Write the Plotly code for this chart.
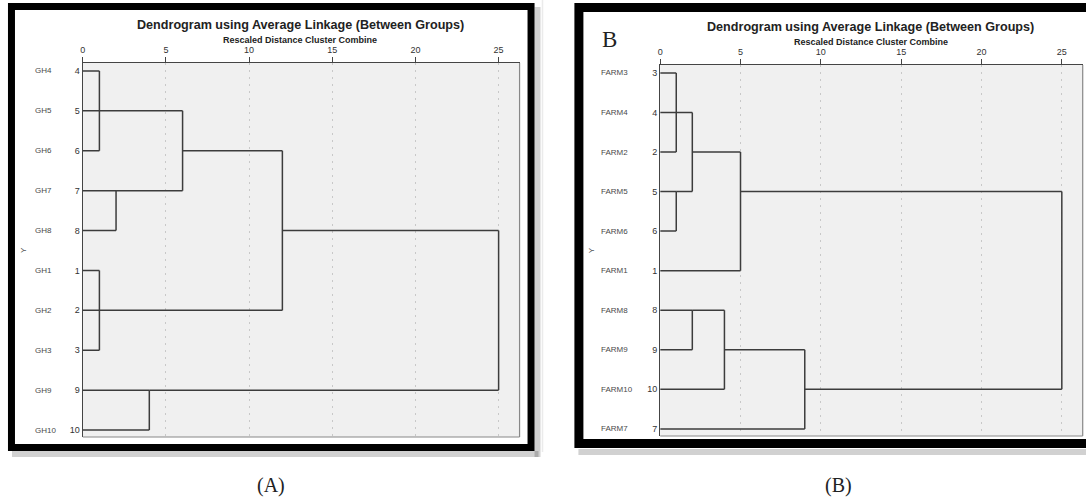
import plotly.graph_objects as go

W, H = 1086, 504

# ---------------- data ----------------
a_names = ["GH4", "GH5", "GH6", "GH7", "GH8", "GH1", "GH2", "GH3", "GH9", "GH10"]
a_cases = ["4", "5", "6", "7", "8", "1", "2", "3", "9", "10"]
# merges: (children, rescaled distance, row the joined cluster continues from)
a_merges = [
    (["L0", "L1", "L2"], 1, 1),
    (["L3", "L4"], 2, 3),
    (["M0", "M1"], 6, 2),
    (["L5", "L6", "L7"], 1, 6),
    (["M2", "M3"], 12, 4),
    (["L8", "L9"], 4, 8),
    (["M4", "M5"], 25, None),
]

b_names = ["FARM3", "FARM4", "FARM2", "FARM5", "FARM6", "FARM1", "FARM8", "FARM9", "FARM10", "FARM7"]
b_cases = ["3", "4", "2", "5", "6", "1", "8", "9", "10", "7"]
b_merges = [
    (["L0", "L1", "L2"], 1, 1),
    (["L3", "L4"], 1, 3),
    (["M0", "M1"], 2, 2),
    (["M2", "L5"], 5, 3),
    (["L6", "L7"], 2, 6),
    (["M4", "L8"], 4, 7),
    (["M5", "L9"], 9, 8),
    (["M3", "M6"], 25, None),
]

x_ticks = [0, 5, 10, 15, 20, 25]
title_text = "Dendrogram using Average Linkage (Between Groups)"
subtitle_text = "Rescaled Distance Cluster Combine"


def px(x):
    return x / W


def py(y):
    return 1 - y / H


def segments(merges):
    xs, ys = [], []
    nodes = []
    for children, h, out_row in merges:
        rows = []
        for c in children:
            if c[0] == "L":
                ch, cr = 0, int(c[1:])
            else:
                ch, cr = nodes[int(c[1:])]
            xs += [ch, h, None]
            ys += [cr, cr, None]
            rows.append(cr)
        xs += [h, h, None]
        ys += [min(rows), max(rows), None]
        nodes.append((h, out_row))
    return xs, ys


fig = go.Figure()

line_col = "#3c3c3c"
for xa, ya, merges in [("x", "y", a_merges), ("x2", "y2", b_merges)]:
    sx, sy = segments(merges)
    fig.add_trace(go.Scatter(x=sx, y=sy, mode="lines", xaxis=xa, yaxis=ya,
                             line=dict(color=line_col, width=1.5),
                             hoverinfo="skip", showlegend=False))

xcommon = dict(side="top", tickvals=x_ticks, ticks="outside", ticklen=5,
               tickcolor="#444", tickwidth=1, tickfont=dict(size=9, color="#333", family="Liberation Sans"),
               showgrid=True, griddash="2px,5px", gridcolor="#c8c8c8", gridwidth=1,
               zeroline=False, showline=True, linecolor="#444", linewidth=1.2, fixedrange=True)
ycommon = dict(tickvals=list(range(10)), ticks="", showgrid=False, zeroline=False,
               showline=True, linecolor="#444", linewidth=1.2,
               tickfont=dict(size=9, color="#333", family="Liberation Sans"), fixedrange=True)

fig.update_layout(
    width=W, height=H, margin=dict(l=0, r=0, t=0, b=0),
    paper_bgcolor="white", plot_bgcolor="#f0f0f0",
    xaxis=dict(domain=[px(80), px(518)], range=[0, 26.26], anchor="y", **xcommon),
    yaxis=dict(domain=[py(437), py(63)], range=[9.175, -0.2], anchor="x",
               ticktext=a_cases, **ycommon),
    xaxis2=dict(domain=[px(659), px(1082.7)], range=[0, 26.3], anchor="y2", **xcommon),
    yaxis2=dict(domain=[py(436), py(65)], range=[9.18, -0.2], anchor="x2",
                ticktext=b_cases, **ycommon),
    showlegend=False,
)

shapes = []
# right / bottom plot borders in grey
for xa, ya in [("x", "y"), ("x2", "y2")]:
    shapes.append(dict(type="line", xref=f"{xa} domain", yref=f"{ya} domain", x0=1, x1=1, y0=0, y1=1,
                       line=dict(color="#888", width=1.2)))
    shapes.append(dict(type="line", xref=f"{xa} domain", yref=f"{ya} domain", x0=0, x1=1, y0=0, y1=0,
                       line=dict(color="#888", width=1.2)))

# shadows
shapes.append(dict(type="line", xref="paper", yref="paper", x0=px(9), x1=px(537), y0=py(454), y1=py(454),
                   line=dict(color="rgba(0,0,0,0.18)", width=6)))
shapes.append(dict(type="line", xref="paper", yref="paper", x0=px(536), x1=px(536), y0=py(7), y1=py(457),
                   line=dict(color="rgba(0,0,0,0.18)", width=6)))
shapes.append(dict(type="line", xref="paper", yref="paper", x0=px(577), x1=px(1086), y0=py(452), y1=py(452),
                   line=dict(color="rgba(0,0,0,0.18)", width=6)))
shapes.append(dict(type="line", xref="paper", yref="paper", x0=px(541), x1=px(541), y0=py(0), y1=py(452),
                   line=dict(color="rgba(0,0,0,0.08)", width=1.5)))
# black frames
shapes.append(dict(type="rect", xref="paper", yref="paper", x0=px(8.5), x1=px(529.5), y0=py(447.5), y1=py(6.5),
                   line=dict(color="black", width=7)))
shapes.append(dict(type="rect", xref="paper", yref="paper", x0=px(577.5), x1=px(1095), y0=py(443.5), y1=py(7.5),
                   line=dict(color="black", width=9)))
fig.update_layout(shapes=shapes)

ann = []
for names, ya, xleft in [(a_names, "y", 30), (b_names, "y2", 598)]:
    for i, n in enumerate(names):
        ann.append(dict(text=n, xref="paper", yref=ya, x=px(xleft), y=i, xanchor="left", yanchor="middle",
                        showarrow=False, font=dict(size=8, color="#4a4a4a", family="Liberation Sans")))

for cx, ty, sy in [(298, 25, 40), (870, 27, 42)]:
    ann.append(dict(text=f"<b>{title_text}</b>", xref="paper", yref="paper", x=px(cx), y=py(ty),
                    xanchor="center", yanchor="middle", showarrow=False,
                    font=dict(size=12.6, color="#222", family="Liberation Sans")))
    ann.append(dict(text=f"<b>{subtitle_text}</b>", xref="paper", yref="paper", x=px(cx), y=py(sy),
                    xanchor="center", yanchor="middle", showarrow=False,
                    font=dict(size=9, color="#222", family="Liberation Sans")))

for yx in [20, 590]:
    ann.append(dict(text="Y", xref="paper", yref="paper", x=px(yx), y=py(250), textangle=-90,
                    xanchor="center", yanchor="middle", showarrow=False,
                    font=dict(size=8, color="#555", family="Liberation Sans")))

ann.append(dict(text="B", xref="paper", yref="paper", x=px(608), y=py(40), xanchor="center", yanchor="middle",
                showarrow=False, font=dict(size=23, color="#222", family="Liberation Serif")))
ann.append(dict(text="(A)", xref="paper", yref="paper", x=px(269), y=py(485), xanchor="center", yanchor="middle",
                showarrow=False, font=dict(size=20, color="#222", family="Liberation Serif")))
ann.append(dict(text="(B)", xref="paper", yref="paper", x=px(838), y=py(485), xanchor="center", yanchor="middle",
                showarrow=False, font=dict(size=20, color="#222", family="Liberation Serif")))
fig.update_layout(annotations=ann)

fig.write_html("out.html", config={"displayModeBar": False},
               post_script="document.body.style.margin='0px';")
